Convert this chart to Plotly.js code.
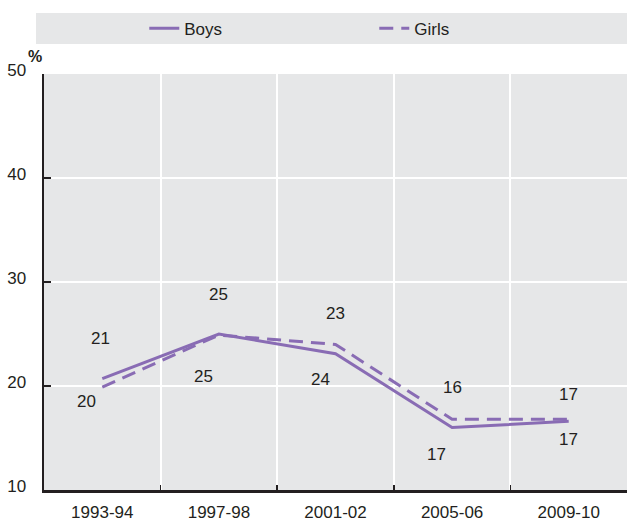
<!DOCTYPE html>
<html>
<head>
<meta charset="utf-8">
<script src="https://cdn.plot.ly/plotly-3.0.1.min.js"></script>
<style>html,body{margin:0;padding:0;background:#fff;}#chart{width:627px;height:521px;}</style>
</head>
<body>
<div id="chart"></div>
<script>
// ---- data ----
const years = ["1993-94", "1997-98", "2001-02", "2005-06", "2009-10"];
const boys = [20.7, 25.0, 23.1, 16.0, 16.6];
const girls = [19.9, 24.9, 24.0, 16.8, 16.8];
const boysLabels = ["21", "25", "23", "16", "17"];
const girlsLabels = ["20", "25", "24", "17", "17"];
const yTicks = [10, 20, 30, 40, 50];

// ---- label placement (pixel offsets from each point) ----
const boysShift = [[-2, 40], [0, 40], [0, 40], [0, 40], [0, 27]];
const girlsShift = [[-16, -14], [-15, -41], [-15, -35], [-16, -35], [0, -20]];

const FONT = "'Liberation Sans Narrow', 'Arial Narrow', 'Liberation Sans', Arial, sans-serif";
const DARK = "#231f20";
const PURPLE = "#896cb4";
const FS = 17;

const traces = [
  {x: years, y: boys, name: "Boys", type: "scatter", mode: "lines",
   line: {color: PURPLE, width: 3}, hoverinfo: "skip"},
  {x: years, y: girls, name: "Girls", type: "scatter", mode: "lines",
   line: {color: PURPLE, width: 3, dash: "14px,8px"}, hoverinfo: "skip"}
];

const annotations = [];
years.forEach((yr, i) => {
  annotations.push({x: yr, y: boys[i], text: boysLabels[i], showarrow: false,
    xshift: boysShift[i][0], yshift: boysShift[i][1],
    font: {family: FONT, size: FS, color: DARK}});
  annotations.push({x: yr, y: girls[i], text: girlsLabels[i], showarrow: false,
    xshift: girlsShift[i][0], yshift: girlsShift[i][1],
    font: {family: FONT, size: FS, color: DARK}});
});
annotations.push({xref: "paper", yref: "paper", x: -0.0154, y: 1.041,
  xanchor: "center", yanchor: "middle", text: "<b>%</b>", showarrow: false,
  font: {family: FONT, size: 16, color: DARK}});

const layout = {
  width: 627, height: 521,
  margin: {l: 44, r: 0, t: 74, b: 31, pad: 0},
  paper_bgcolor: "#ffffff",
  plot_bgcolor: "#e6e7e8",
  font: {family: FONT, size: FS, color: DARK},
  showlegend: true,
  legend: {orientation: "h", x: 0.172, xanchor: "left", y: 1.109, yanchor: "middle",
    bgcolor: "rgba(0,0,0,0)", entrywidth: 185, entrywidthmode: "pixels",
    font: {family: FONT, size: FS, color: DARK}, traceorder: "normal"},
  xaxis: {type: "category", range: [-0.5, 4.5], tickson: "boundaries",
    showgrid: true, gridcolor: "#ffffff", gridwidth: 2,
    ticks: "inside", ticklen: 5, tickwidth: 1.5, tickcolor: DARK,
    showline: true, linecolor: DARK, linewidth: 2.5, zeroline: false,
    tickfont: {family: FONT, size: FS, color: DARK}, ticklabelstandoff: 5,
    fixedrange: true},
  yaxis: {range: [10, 50], tickvals: yTicks, ticktext: yTicks.map(String),
    showgrid: true, gridcolor: "#ffffff", gridwidth: 2,
    ticks: "inside", ticklen: 7, tickwidth: 1.5, tickcolor: DARK,
    showline: true, linecolor: DARK, linewidth: 2.5, zeroline: false,
    tickfont: {family: FONT, size: FS, color: DARK}, ticklabelstandoff: 12,
    ticklabelshift: -4, fixedrange: true},
  shapes: [{type: "rect", xref: "paper", yref: "paper", layer: "below",
    x0: -0.0137, x1: 1.0, y0: 1.072, y1: 1.1466,
    fillcolor: "#e6e7e8", line: {width: 0}}],
  annotations: annotations
};

Plotly.newPlot("chart", traces, layout, {displayModeBar: false, staticPlot: true});
</script>
</body>
</html>
